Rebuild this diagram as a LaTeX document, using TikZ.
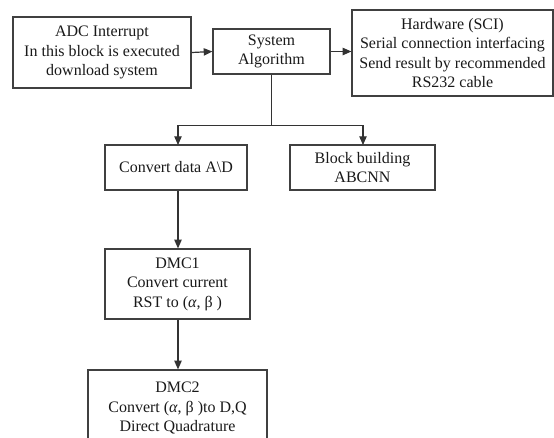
\documentclass[tikz,border=0pt]{standalone}
\usepackage{fontspec}
\setmainfont{Liberation Serif}
\usetikzlibrary{arrows.meta}
\begin{document}
\begin{tikzpicture}[x=0.75pt,y=-0.75pt,
  box/.style={draw=black!75,line width=0.9pt,align=center,inner sep=0pt,
    font=\fontsize{12}{14.7}\selectfont,text=black!90},
  conn/.style={draw=black!80,line width=0.9pt},
  arr/.style={conn,-{Triangle[length=6.5pt,width=5.5pt]}}]
\useasboundingbox (0,0) rectangle (554,437);
\clip (0,0) rectangle (554,437);
\node[box,minimum width=178*0.75pt,minimum height=71*0.75pt] (adc) at (102,52.5)
  {ADC Interrupt\\In this block is executed\\download system};
\node[box,minimum width=117*0.75pt,minimum height=45*0.75pt] (sys) at (271.5,51.5)
  {System\\Algorithm};
\node[box,minimum width=201*0.75pt,minimum height=86*0.75pt] (hw) at (452.5,53)
  {Hardware (SCI)\\Serial connection interfacing\\Send result by recommended\\RS232 cable};
\node[box,minimum width=142*0.75pt,minimum height=45*0.75pt] (conv) at (176,167.5)
  {Convert data A\textbackslash D};
\node[box,minimum width=145*0.75pt,minimum height=45*0.75pt] (blk) at (362.5,167.5)
  {Block building\\ABCNN};
\node[box,minimum width=145*0.75pt,minimum height=70*0.75pt] (dmc1) at (177.5,284)
  {DMC1\\Convert current\\RST to (\textit{α}, β )};
\node[box,minimum width=179*0.75pt,minimum height=76*0.75pt] (dmc2) at (177.5,408)
  {DMC2\\Convert (\textit{α}, β )to D,Q\\Direct Quadrature};
\draw[arr] (adc.east) -- (sys.west);
\draw[arr] (sys.east) -- (sys.east -| hw.west);
\draw[conn] (sys.south) -- ++(0,51) coordinate (j);
\coordinate (cl) at (178,145);
\coordinate (bl) at (363,145);
\draw[arr] (j) -| (cl);
\draw[arr] (j) -| (bl);
\draw[arr] (cl |- conv.south) -- (cl |- dmc1.north);
\draw[arr] (cl |- dmc1.south) -- (cl |- dmc2.north);
\end{tikzpicture}
\end{document}
